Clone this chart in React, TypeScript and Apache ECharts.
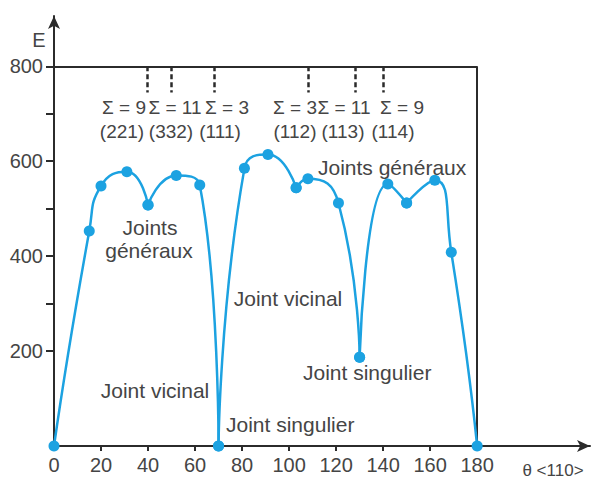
import React, { useEffect, useRef } from "react";
import * as echarts from "echarts";

const theta = [0, 15, 20, 31, 40, 52, 62, 70, 81, 91, 103, 108, 121, 130, 142, 150, 162, 169, 180];
const energy = [0, 453, 548, 578, 508, 570, 550, 0, 585, 614, 544, 563, 512, 187, 552, 512, 560, 408, 0];
const cuspIndex = [0, 4, 7, 10, 13, 15, 18];
const xTicks = [0, 20, 40, 60, 80, 100, 120, 140, 160, 180];
const yTicks = [200, 300, 400, 500, 600, 700, 800];
const yLabels = [200, 400, 600, 800];
const sigmaTheta = [39.5, 50, 68, 108, 128, 140];
const sigmaTop = 800;
const sigmaBottom = 745;

const BLUE = "#1ca2e1";
const INK = "#2b2b2b";
const TEXT = "#454545";
const FONT = "Liberation Sans, Arial, sans-serif";

export default function App() {
  const ref = useRef<HTMLDivElement>(null);
  useEffect(() => {
    if (!ref.current) return;
    const chart = echarts.init(ref.current, null, { renderer: "svg" });
    const segments: any[] = [];
    for (let i = 0; i < cuspIndex.length - 1; i++) {
      const pts = [];
      for (let k = cuspIndex[i]; k <= cuspIndex[i + 1]; k++) pts.push([theta[k], energy[k]]);
      segments.push({
        type: "line",
        data: pts,
        smooth: 0.55,
        symbol: "circle",
        symbolSize: 11,
        lineStyle: { color: BLUE, width: 2.5 },
        itemStyle: { color: BLUE },
        z: 5,
      });
    }
    const boxLines = [
      [{ coord: [0, 800] }, { coord: [180, 800] }],
      [{ coord: [180, 0] }, { coord: [180, 800] }],
    ];
    const dashLines = sigmaTheta.map((t) => [{ coord: [t, sigmaTop] }, { coord: [t, sigmaBottom] }]);
    segments.push({
      type: "line",
      data: [],
      markLine: {
        silent: true,
        symbol: ["none", "none"],
        label: { show: false },
        lineStyle: { color: INK, width: 2, type: "solid" },
        data: boxLines,
      },
    });
    segments.push({
      type: "line",
      data: [],
      markLine: {
        silent: true,
        symbol: ["none", "none"],
        label: { show: false },
        lineStyle: { color: INK, width: 2.5, type: [5, 3] },
        data: dashLines,
      },
    });
    const txt = (text: string, x: number, y: number, align = "center", size = 21) => ({
      type: "text",
      x,
      y,
      style: {
        text,
        fill: TEXT,
        font: `${size}px ${FONT}`,
        textAlign: align,
        textVerticalAlign: "middle",
      },
    });
    chart.setOption({
      animation: false,
      grid: { left: 54, right: 8, top: 16, bottom: 34 },
      xAxis: {
        type: "value",
        min: 0,
        max: 228,
        axisLine: {
          show: true,
          lineStyle: { color: INK, width: 2 },
          symbol: ["none", "arrow"],
          symbolSize: [9, 13],
        },
        axisTick: { show: true, customValues: xTicks, length: 5, lineStyle: { color: INK, width: 2 } },
        axisLabel: { customValues: xTicks, color: TEXT, fontSize: 20, fontFamily: FONT, margin: 9 },
        splitLine: { show: false },
      },
      yAxis: {
        type: "value",
        min: 0,
        max: 906,
        axisLine: {
          show: true,
          lineStyle: { color: INK, width: 2 },
          symbol: ["none", "arrow"],
          symbolSize: [9, 13],
        },
        axisTick: { show: true, customValues: yTicks, length: 8, lineStyle: { color: INK, width: 2 } },
        axisLabel: { customValues: yLabels, color: TEXT, fontSize: 20, fontFamily: FONT, margin: 11 },
        splitLine: { show: false },
      },
      graphic: [
        txt("E", 39, 40, "center", 20),
        txt("θ <110>", 553, 470, "center", 17),
        txt("Σ = 9", 124, 107, "center", 19),
        txt("Σ = 11", 175, 107, "center", 19),
        txt("Σ = 3", 227, 107, "center", 19),
        txt("Σ = 3", 295, 107, "center", 19),
        txt("Σ = 11", 344, 107, "center", 19),
        txt("Σ = 9", 402, 107, "center", 19),
        txt("(221)", 122, 131, "center", 19),
        txt("(332)", 171, 131, "center", 19),
        txt("(111)", 220, 131, "center", 19),
        txt("(112)", 295, 131, "center", 19),
        txt("(113)", 343, 131, "center", 19),
        txt("(114)", 393, 131, "center", 19),
        txt("Joints", 150, 227),
        txt("généraux", 149, 250),
        txt("Joints généraux", 318, 167, "left"),
        txt("Joint vicinal", 288, 298),
        txt("Joint vicinal", 155, 390),
        txt("Joint singulier", 303, 372, "left"),
        txt("Joint singulier", 226, 424, "left"),
      ],
      series: segments,
    });
    return () => chart.dispose();
  }, []);
  return (
    <div
      ref={ref}
      style={{ position: "fixed", left: 0, top: 0, width: 598, height: 480, background: "#fff" }}
    />
  );
}
